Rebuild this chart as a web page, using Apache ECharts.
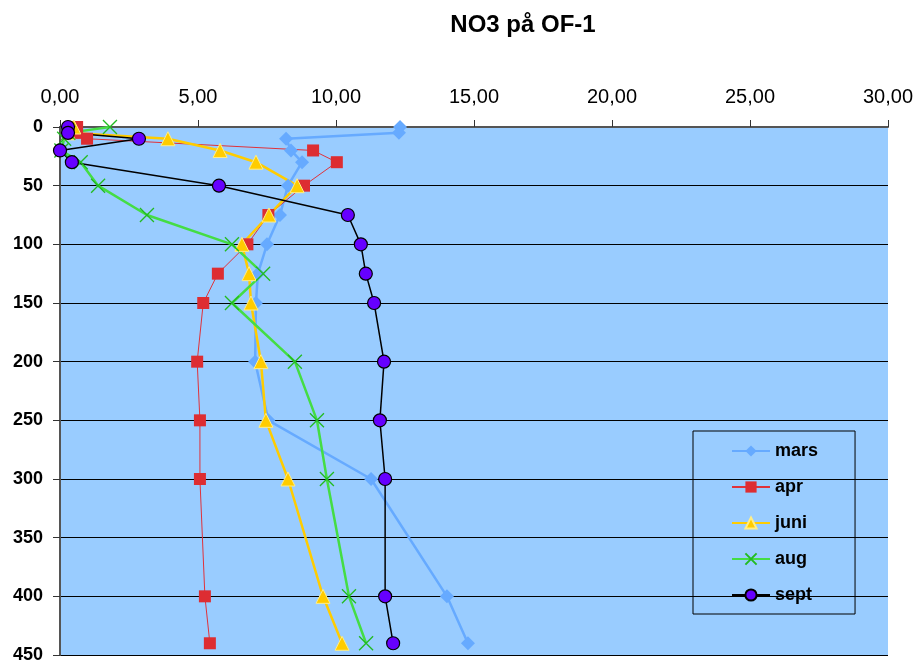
<!DOCTYPE html>
<html>
<head>
<meta charset="utf-8">
<script src="https://cdn.jsdelivr.net/npm/echarts@6/dist/echarts.min.js"></script>
<style>
  html, body { margin: 0; padding: 0; background: #ffffff; }
  #chart { width: 923px; height: 664px; }
</style>
</head>
<body>
<div id="chart"></div>
<script>
// Sampling depths (m) for every cruise
const depths = [0, 5, 10, 20, 30, 50, 75, 100, 125, 150, 200, 250, 300, 400, 440];

// NO3 concentration at each depth, per month
const mars = [12.32, 12.28, 8.19, 8.37, 8.77, 8.26, 7.97, 7.50, 7.17, 7.10, 7.07, 7.55, 11.27, 14.02, 14.78];
const apr  = [0.62, 0.60, 0.98, 9.17, 10.03, 8.84, 7.55, 6.79, 5.72, 5.19, 4.97, 5.07, 5.07, 5.25, 5.43];
const juni = [0.50, 0.30, 3.91, 5.80, 7.10, 8.59, 7.57, 6.59, 6.85, 6.92, 7.28, 7.46, 8.26, 9.53, 10.22];
const aug  = [1.81, 0.30, 0.15, 0.05, 0.75, 1.38, 3.15, 6.23, 7.36, 6.23, 8.51, 9.31, 9.67, 10.47, 11.09];
const sept = [0.29, 0.29, 2.86, 0.00, 0.43, 5.76, 10.43, 10.90, 11.08, 11.38, 11.74, 11.59, 11.78, 11.78, 12.07];

const seriesNames = ['mars', 'apr', 'juni', 'aug', 'sept'];

// Axis ranges
const xMin = 0, xMax = 30, xStep = 5;
const yMin = 0, yMax = 450, yStep = 50;

function pairs(values) {
  return values.map((v, i) => [v, depths[i]]);
}

const chart = echarts.init(document.getElementById('chart'), null, { renderer: 'canvas' });

const option = {
  backgroundColor: '#ffffff',
  animation: false,
  title: {
    text: 'NO3 på OF-1',
    left: 518,
    textAlign: 'center',
    top: 8,
    textStyle: { fontFamily: 'Liberation Sans, Arial, sans-serif', fontWeight: 'bold', fontSize: 24, color: '#000' }
  },
  legend: {
    orient: 'vertical',
    left: 693,
    top: 431,
    itemWidth: 38,
    itemHeight: 14,
    itemGap: 18,
    padding: [11, 37, 10, 38],
    borderColor: '#000',
    borderWidth: 1,
    backgroundColor: 'transparent',
    textStyle: { fontFamily: 'Liberation Sans, Arial, sans-serif', fontWeight: 'bold', fontSize: 18, color: '#000' },
    data: seriesNames
  },
  grid: {
    left: 60, top: 127, right: 35, bottom: 9,
    show: true, backgroundColor: '#99CCFF', borderWidth: 0
  },
  xAxis: {
    type: 'value',
    position: 'top',
    min: xMin, max: xMax, interval: xStep,
    axisLine: { show: true, onZero: false, lineStyle: { color: '#555555', width: 2 } },
    axisTick: { show: true, length: 7, lineStyle: { color: '#333', width: 1 } },
    splitLine: { show: false },
    axisLabel: {
      margin: 20,
      fontFamily: 'Liberation Sans, Arial, sans-serif', fontSize: 20, color: '#000',
      formatter: v => v.toFixed(2).replace('.', ',')
    }
  },
  yAxis: {
    type: 'value',
    inverse: true,
    min: yMin, max: yMax, interval: yStep,
    axisLine: { show: true, onZero: false, lineStyle: { color: '#555555', width: 2 } },
    axisTick: { show: true, length: 7, lineStyle: { color: '#333', width: 1 } },
    splitLine: { show: true, lineStyle: { color: '#000', width: 1 } },
    axisLabel: {
      margin: 17,
      fontFamily: 'Liberation Sans, Arial, sans-serif', fontWeight: 'bold', fontSize: 18, color: '#000'
    }
  },
  series: [
    {
      name: 'mars', type: 'line', data: pairs(mars),
      symbol: 'diamond', symbolSize: 14,
      lineStyle: { color: '#66AAFF', width: 2.5 },
      itemStyle: { color: '#66AAFF' }
    },
    {
      name: 'apr', type: 'line', data: pairs(apr),
      symbol: 'rect', symbolSize: 12,
      lineStyle: { color: '#E0323A', width: 1 },
      itemStyle: { color: '#DD2D32' }
    },
    {
      name: 'juni', type: 'line', data: pairs(juni),
      symbol: 'triangle', symbolSize: 14,
      lineStyle: { color: '#FFCC00', width: 2.5 },
      itemStyle: { color: '#FFCC00', borderColor: '#FFEE88', borderWidth: 1 }
    },
    {
      name: 'aug', type: 'line', data: pairs(aug),
      symbol: 'path://M0,0L10,10M10,0L0,10', symbolSize: 14,
      lineStyle: { color: '#44DD44', width: 2.5 },
      itemStyle: { color: '#22BB22', borderColor: '#22BB22', borderWidth: 1.3 }
    },
    {
      name: 'sept', type: 'line', data: pairs(sept),
      symbol: 'circle', symbolSize: 13,
      lineStyle: { color: '#000000', width: 1.5 },
      itemStyle: { color: '#6600FF', borderColor: '#000', borderWidth: 1.2 }
    }
  ]
};

chart.setOption(option);
</script>
</body>
</html>
